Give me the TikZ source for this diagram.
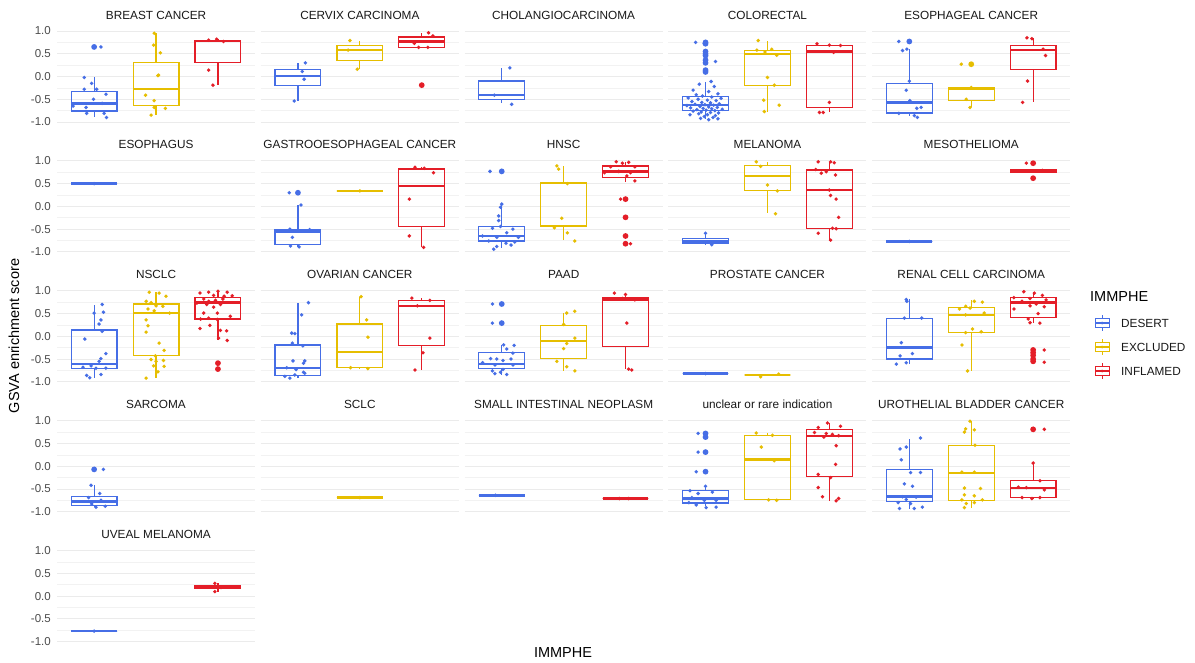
\documentclass[tikz,border=0pt]{standalone}
\usepackage{fontspec}
\setmainfont{Liberation Sans}
\definecolor{cD}{RGB}{70,110,230}
\definecolor{cE}{RGB}{230,190,0}
\definecolor{cI}{RGB}{228,30,40}
\tikzset{
 bline/.style={line width=1.2pt},
 mline/.style={line width=2.4pt},
 gmaj/.style={draw=black!8, line width=0.9pt},
 gmin/.style={draw=black!5, line width=0.6pt},
 ttl/.style={font=\fontsize{11.8}{14}\selectfont, text=black!90, inner sep=0pt},
 tick/.style={font=\fontsize{11.5}{13}\selectfont, text=black!70, anchor=east, inner sep=0pt},
 axt/.style={font=\fontsize{14.5}{17}\selectfont, text=black, inner sep=0pt},
 lab/.style={font=\fontsize{11.8}{14}\selectfont, text=black!90, inner sep=0pt, anchor=west},
}
\newcommand{\bxp}[7]{%
  \draw[#1,bline] (#2,#4) -- (#2,#3) (#2,#6) -- (#2,#7);
  \draw[#1,bline] ({#2-0.37},#4) rectangle ({#2+0.37},#6);
  \draw[#1,mline] ({#2-0.37},#5) -- ({#2+0.37},#5);}
\newcommand{\pts}[3]{\foreach \a/\b in {#3}{\fill[#1] ({#2+(\a)},\b) circle (1.9pt);}}
\newcommand{\outl}[3]{\foreach \b in {#3}{\fill[#1] (#2,\b) circle (2.9pt);}}
\newcommand{\gridp}{\foreach \v in {-0.75,-0.25,0.25,0.75}{\draw[gmin] (0.4,\v) -- (3.6,\v);}\foreach \v in {-1,-0.5,0,0.5,1}{\draw[gmaj] (0.4,\v) -- (3.6,\v);}}
\newcommand{\ticks}[1]{\foreach \v/\t [count=\i] in {1/1.0,0.5/0.5,0/0.0,-0.5/-0.5,-1/-1.0}{\node[tick] (tk#1\i) at (0.303,\v) {\t};}}
\begin{document}
\begin{tikzpicture}[x=1pt,y=-1pt]
\useasboundingbox[fill=white] (0,0) rectangle (1195,662);
% ===== Row 1 =====
\begin{scope}[xshift=32.24pt,yshift=-76.5pt,x=61.9pt,y=45.5pt]
\gridp \ticks{a}
\node[ttl] (t1) at (2,1.352) {BREAST CANCER};
\bxp{cD}{1}{-0.90}{-0.76}{-0.59}{-0.33}{-0.02}
\outl{cD}{1}{0.65}
\pts{cD}{1}{0.11/0.65,-0.16/-0.02,-0.04/-0.15,-0.16/-0.28,0.04/-0.28,0.19/-0.39,-0.01/-0.50,-0.34/-0.65,-0.13/-0.68,0.13/-0.59,-0.12/-0.81,0.16/-0.81,0.2/-0.9}
\bxp{cE}{2}{-0.85}{-0.63}{-0.28}{0.30}{0.95}
\pts{cE}{2}{-0.03/0.95,-0.04/0.69,0.07/0.52,0.04/0.03,0.03/0.02,-0.17/-0.41,-0.03/-0.53,-0.03/-0.68,0.15/-0.70,-0.08/-0.85}
\bxp{cI}{3}{-0.19}{0.30}{0.78}{0.80}{0.82}
\pts{cI}{3}{-0.15/0.80,-0.02/0.82,0.09/0.77,-0.15/0.14,-0.08/-0.19}
\end{scope}
\begin{scope}[xshift=236.04pt,yshift=-76.5pt,x=61.9pt,y=45.5pt]
\gridp
\node[ttl] (t2) at (2,1.352) {CERVIX CARCINOMA};
\bxp{cD}{1}{-0.54}{-0.19}{0.01}{0.16}{0.30}
\pts{cD}{1}{0.12/0.30,0.07/0.11,0.1/-0.06,-0.06/-0.54}
\bxp{cE}{2}{0.16}{0.36}{0.58}{0.68}{0.79}
\pts{cE}{2}{-0.16/0.79,-0.19/0.58,-0.04/0.16}
\bxp{cI}{3}{0.64}{0.64}{0.77}{0.87}{0.96}
\outl{cI}{3}{-0.19}
\pts{cI}{3}{0.11/0.96,0.18/0.89,-0.12/0.73,-0.05/0.64,0.1/0.64}
\end{scope}
\begin{scope}[xshift=439.84pt,yshift=-76.5pt,x=61.9pt,y=45.5pt]
\gridp
\node[ttl] (t3) at (2,1.352) {CHOLANGIOCARCINOMA};
\bxp{cD}{1}{-0.59}{-0.50}{-0.41}{-0.10}{0.19}
\pts{cD}{1}{0.13/0.19,-0.12/-0.41,0.16/-0.61}
\end{scope}
\begin{scope}[xshift=643.64pt,yshift=-76.5pt,x=61.9pt,y=45.5pt]
\gridp
\node[ttl] (t4) at (2,1.352) {COLORECTAL};
\bxp{cD}{1}{-0.93}{-0.75}{-0.63}{-0.44}{-0.11}
\outl{cD}{1}{0.75,0.72,0.55,0.5,0.46,0.36,0.30,0.14,0.10}
\pts{cD}{1}{-0.16/0.75,0.16/0.33,-0.02/0.72,0/0.52,0.01/0.45,0.09/-0.11,-0.1/-0.17,0.14/-0.22,-0.2/-0.3,0.05/-0.33,0.2/-0.38,-0.15/-0.4,-0.05/-0.43,0.1/-0.45,-0.28/-0.47,0.25/-0.48,-0.12/-0.5,0.03/-0.52,0.17/-0.53,-0.22/-0.55,-0.06/-0.57,0.08/-0.58,0.22/-0.6,-0.17/-0.61,-0.01/-0.62,0.13/-0.63,-0.3/-0.64,-0.09/-0.66,0.05/-0.67,0.19/-0.68,-0.24/-0.69,-0.04/-0.7,0.1/-0.71,0.27/-0.72,-0.14/-0.73,0.01/-0.74,0.15/-0.75,-0.2/-0.76,-0.07/-0.78,0.08/-0.79,0.21/-0.8,-0.11/-0.82,0.03/-0.84,0.16/-0.86,-0.02/-0.88,0.12/-0.9,0.2/-0.93,0.05/-0.95,-0.08/-0.92,-0.25/-0.84}
\bxp{cE}{2}{-0.77}{-0.19}{0.49}{0.57}{0.77}
\pts{cE}{2}{-0.15/0.79,-0.17/0.58,-0.04/0.54,0.07/0.6,0.15/0.47,0/-0.02,0.11/-0.19,-0.06/-0.52,-0.05/-0.77,0.19/-0.63}
\bxp{cI}{3}{-0.79}{-0.68}{0.55}{0.69}{0.72}
\pts{cI}{3}{-0.2/0.72,0/0.69,0.18/0.68,0.07/0.53,0/-0.57,-0.16/-0.79,-0.1/-0.79}
\end{scope}
\begin{scope}[xshift=847.44pt,yshift=-76.5pt,x=61.9pt,y=45.5pt]
\gridp
\node[ttl] (t5) at (2,1.352) {ESOPHAGEAL CANCER};
\bxp{cD}{1}{-0.87}{-0.80}{-0.57}{-0.15}{0.60}
\outl{cD}{1}{0.77}
\pts{cD}{1}{-0.17/0.77,-0.04/0.60,-0.11/0.57,0/-0.10,-0.05/-0.30,0.01/-0.53,0.19/-0.68,-0.17/-0.81,0.08/-0.86,0.13/-0.9,0.12/-0.7}
\bxp{cE}{2}{-0.68}{-0.52}{-0.26}{-0.24}{-0.24}
\outl{cE}{2}{0.27}
\pts{cE}{2}{-0.16/0.27,0/-0.24,-0.08/-0.5,-0.02/-0.68}
\bxp{cI}{3}{-0.57}{0.16}{0.58}{0.69}{0.85}
\pts{cI}{3}{-0.1/0.85,-0.02/0.83,0.16/0.6,0.2/0.46,-0.09/-0.10,-0.17/-0.57}
\end{scope}
% ===== Row 2 =====
\begin{scope}[xshift=32.24pt,yshift=-206.4pt,x=61.9pt,y=45.5pt]
\gridp \ticks{b}
\node[ttl] (t6) at (2,1.352) {ESOPHAGUS};
\bxp{cD}{1}{0.5}{0.5}{0.5}{0.5}{0.5}
\pts{cD}{1}{0/0.5}
\end{scope}
\begin{scope}[xshift=236.04pt,yshift=-206.4pt,x=61.9pt,y=45.5pt]
\gridp
\node[ttl] (t7) at (2,1.352) {GASTROOESOPHAGEAL CANCER};
\bxp{cD}{1}{-0.89}{-0.83}{-0.55}{-0.50}{0.03}
\outl{cD}{1}{0.30}
\pts{cD}{1}{-0.14/0.30,0.05/0.03,-0.13/-0.5,0.19/-0.51,-0.09/-0.68,-0.12/-0.87,0.02/-0.89}
\bxp{cE}{2}{0.34}{0.34}{0.34}{0.34}{0.34}
\pts{cE}{2}{0/0.34}
\bxp{cI}{3}{-0.90}{-0.44}{0.45}{0.82}{0.86}
\pts{cI}{3}{-0.11/0.86,0.04/0.84,0.19/0.74,-0.2/0.16,-0.2/-0.65,0.03/-0.90}
\end{scope}
\begin{scope}[xshift=439.84pt,yshift=-206.4pt,x=61.9pt,y=45.5pt]
\gridp
\node[ttl] (t8) at (2,1.352) {HNSC};
\bxp{cD}{1}{-0.92}{-0.76}{-0.65}{-0.44}{0.05}
\outl{cD}{1}{0.77}
\pts{cD}{1}{-0.19/0.77,0/0.05,-0.02/-0.02,-0.05/-0.21,-0.05/-0.31,-0.02/-0.44,-0.15/-0.48,0.18/-0.5,0.08/-0.58,-0.31/-0.65,-0.08/-0.68,0.27/-0.68,-0.21/-0.76,0.07/-0.81,-0.08/-0.88,0.15/-0.85,-0.13/-0.94,0.21/-0.78}
\bxp{cE}{2}{-0.74}{-0.43}{0.51}{0.52}{0.89}
\pts{cE}{2}{-0.11/0.89,-0.08/0.82,0.06/0.50,-0.03/-0.26,-0.15/-0.47,0.06/-0.58,0.18/-0.76}
\bxp{cI}{3}{0.53}{0.64}{0.77}{0.89}{0.98}
\outl{cI}{3}{0.16,-0.24,-0.65,-0.82}
\pts{cI}{3}{-0.15/0.98,-0.05/0.95,0.05/0.97,-0.24/0.87,0.15/0.87,-0.11/0.77,0.08/0.74,-0.34/0.74,0.02/0.67,0.15/0.56,-0.08/0.16,0.08/-0.82}
\end{scope}
\begin{scope}[xshift=643.64pt,yshift=-206.4pt,x=61.9pt,y=45.5pt]
\gridp
\node[ttl] (t9) at (2,1.352) {MELANOMA};
\bxp{cD}{1}{-0.84}{-0.82}{-0.77}{-0.70}{-0.59}
\pts{cD}{1}{0/-0.59,0.1/-0.84}
\bxp{cE}{2}{-0.15}{0.35}{0.67}{0.90}{0.98}
\pts{cE}{2}{-0.18/0.98,-0.11/0.88,0/0.47,0.16/0.34,0.13/-0.16}
\bxp{cI}{3}{-0.76}{-0.49}{0.36}{0.80}{0.98}
\pts{cI}{3}{-0.18/0.98,0.02/0.98,0.08/0.96,-0.22/0.81,-0.13/0.73,-0.05/0.76,0.1/0.69,0/0.36,0.02/0.24,0.11/0.16,0.15/-0.24,0.05/-0.48,0.11/-0.49,-0.18/-0.59,0.02/-0.74}
\end{scope}
\begin{scope}[xshift=847.44pt,yshift=-206.4pt,x=61.9pt,y=45.5pt]
\gridp
\node[ttl] (t10) at (2,1.352) {MESOTHELIOMA};
\bxp{cD}{1}{-0.77}{-0.77}{-0.77}{-0.77}{-0.77}
\pts{cD}{1}{0/-0.77}
\bxp{cI}{3}{0.74}{0.74}{0.77}{0.80}{0.80}
\outl{cI}{3}{0.95,0.62}
\pts{cI}{3}{-0.11/0.95,0.15/0.79}
\end{scope}
% ===== Row 3 =====
\begin{scope}[xshift=32.24pt,yshift=-336.3pt,x=61.9pt,y=45.5pt]
\gridp \ticks{c}
\node[ttl] (t11) at (2,1.352) {NSCLC};
\bxp{cD}{1}{-0.92}{-0.71}{-0.61}{0.14}{0.69}
\pts{cD}{1}{0.13/0.7,0/0.51,0.15/0.53,0.11/0.36,0.08/0.27,0.13/0.11,-0.15/-0.06,0.19/-0.38,0.11/-0.49,0.08/-0.55,-0.18/-0.68,-0.05/-0.65,0.03/-0.7,0.19/-0.7,-0.12/-0.86,-0.07/-0.91,0.11/-0.84}
\bxp{cE}{2}{-0.92}{-0.42}{0.51}{0.71}{0.97}
\pts{cE}{2}{-0.11/0.97,0.05/0.95,0.16/0.88,-0.16/0.77,-0.08/0.74,0/0.67,0.11/0.66,-0.13/0.60,-0.03/0.56,0.22/0.51,-0.16/0.36,-0.13/0.23,-0.16/0.09,0.05/-0.15,0.13/-0.31,-0.01/-0.43,-0.08/-0.51,0/-0.55,0.12/-0.53,-0.04/-0.65,0.13/-0.66,0.03/-0.78,-0.16/-0.92}
\bxp{cI}{3}{-0.09}{0.38}{0.74}{0.86}{0.99}
\outl{cI}{3}{-0.59,-0.72}
\pts{cI}{3}{-0.15/0.97,0/0.99,0.15/0.97,-0.29/0.95,-0.07/0.9,0.1/0.88,0.23/0.89,-0.23/0.82,-0.15/0.77,-0.04/0.79,0.08/0.82,-0.34/0.73,-0.18/0.70,0.04/0.70,-0.07/0.64,-0.23/0.51,-0.01/0.51,0.2/0.44,-0.15/0.40,-0.28/0.38,-0.01/0.37,-0.13/0.24,-0.29/0.17,0.04/0.13,0.14/0.12,0.01/-0.04,0.15/-0.09,0.01/-0.58,-0.01/-0.73}
\end{scope}
\begin{scope}[xshift=236.04pt,yshift=-336.3pt,x=61.9pt,y=45.5pt]
\gridp
\node[ttl] (t12) at (2,1.352) {OVARIAN CANCER};
\bxp{cD}{1}{-0.92}{-0.86}{-0.70}{-0.19}{0.73}
\pts{cD}{1}{0.17/0.74,0.06/0.47,-0.1/0.07,-0.05/0.06,-0.09/-0.15,0.08/-0.21,-0.08/-0.54,0.11/-0.54,0.09/-0.59,-0.18/-0.69,-0.03/-0.73,0.09/-0.79,-0.21/-0.88,-0.13/-0.92,-0.05/-0.85,0.11/-0.81}
\bxp{cE}{2}{-0.72}{-0.69}{-0.35}{0.27}{0.87}
\pts{cE}{2}{0.02/0.87,0.11/0.36,0.13/-0.02,-0.15/-0.69,0.13/-0.71}
\bxp{cI}{3}{-0.74}{-0.21}{0.67}{0.79}{0.85}
\pts{cI}{3}{-0.16/0.84,0.13/0.79,-0.07/0.67,0.13/-0.04,0.02/-0.36,-0.11/-0.74}
\end{scope}
\begin{scope}[xshift=439.84pt,yshift=-336.3pt,x=61.9pt,y=45.5pt]
\gridp
\node[ttl] (t13) at (2,1.352) {PAAD};
\bxp{cD}{1}{-0.86}{-0.71}{-0.61}{-0.35}{-0.19}
\outl{cD}{1}{0.71,0.29}
\pts{cD}{1}{-0.15/0.71,-0.15/0.29,0.03/-0.19,0.2/-0.2,0.08/-0.28,0.18/-0.37,-0.18/-0.49,-0.08/-0.5,0.02/-0.53,0.15/-0.5,-0.31/-0.58,-0.11/-0.63,0.18/-0.63,-0.15/-0.76,-0.02/-0.79,0.08/-0.84,-0.11/-0.82,0.02/-0.73}
\bxp{cE}{2}{-0.76}{-0.49}{-0.10}{0.23}{0.52}
\pts{cE}{2}{0.05/0.51,0.18/0.55,0/0.26,0.18/-0.04,0.05/-0.16,0/-0.27,-0.11/-0.55,0.05/-0.67,0.18/-0.76}
\bxp{cI}{3}{-0.72}{-0.22}{0.80}{0.84}{0.95}
\pts{cI}{3}{-0.18/0.95,0/0.92,-0.05/0.83,0.15/0.8,0.02/0.29,0.05/-0.72,0.1/-0.74}
\end{scope}
\begin{scope}[xshift=643.64pt,yshift=-336.3pt,x=61.9pt,y=45.5pt]
\gridp
\node[ttl] (t14) at (2,1.352) {PROSTATE CANCER};
\bxp{cD}{1}{-0.82}{-0.82}{-0.82}{-0.82}{-0.82}
\pts{cD}{1}{0/-0.82}
\bxp{cE}{2}{-0.85}{-0.85}{-0.85}{-0.85}{-0.85}
\pts{cE}{2}{-0.11/-0.89,0.18/-0.83}
\end{scope}
\begin{scope}[xshift=847.44pt,yshift=-336.3pt,x=61.9pt,y=45.5pt]
\gridp
\node[ttl] (t15) at (2,1.352) {RENAL CELL CARCINOMA};
\bxp{cD}{1}{-0.61}{-0.50}{-0.25}{0.40}{0.82}
\pts{cD}{1}{-0.05/0.81,-0.04/0.77,-0.08/0.40,0.2/0.40,-0.13/-0.14,-0.15/-0.43,0.05/-0.38,-0.21/-0.61,-0.05/-0.58}
\bxp{cE}{2}{-0.77}{0.08}{0.47}{0.63}{0.79}
\pts{cE}{2}{0.05/0.77,0.18/0.75,-0.09/0.66,-0.02/0.62,-0.19/0.60,-0.09/0.47,0.21/0.51,0.02/0.16,-0.09/0.08,0.16/0.10,-0.15/-0.19,-0.06/-0.76}
\bxp{cI}{3}{0.29}{0.42}{0.74}{0.85}{0.98}
\outl{cI}{3}{-0.30,-0.36,-0.42,-0.50,-0.55}
\pts{cI}{3}{-0.15/0.98,0.02/0.95,0.15/0.9,-0.31/0.85,-0.05/0.83,0.21/0.8,-0.18/0.77,0.05/0.71,0.18/0.65,-0.05/0.67,-0.31/0.6,0.08/0.5,-0.08/0.38,0.11/0.29,-0.05/0.3,0.18/-0.3,0.18/-0.57}
\end{scope}
% ===== Row 4 =====
\begin{scope}[xshift=32.24pt,yshift=-466.2pt,x=61.9pt,y=45.5pt]
\gridp \ticks{d}
\node[ttl] (t16) at (2,1.352) {SARCOMA};
\bxp{cD}{1}{-0.90}{-0.87}{-0.78}{-0.66}{-0.42}
\outl{cD}{1}{-0.07}
\pts{cD}{1}{0.15/-0.07,-0.05/-0.42,0.09/-0.6,-0.09/-0.69,0.11/-0.75,-0.04/-0.83,0.03/-0.9,0.18/-0.88}
\end{scope}
\begin{scope}[xshift=236.04pt,yshift=-466.2pt,x=61.9pt,y=45.5pt]
\gridp
\node[ttl] (t17) at (2,1.352) {SCLC};
\bxp{cE}{2}{-0.69}{-0.69}{-0.69}{-0.69}{-0.69}
\pts{cE}{2}{0/-0.69}
\end{scope}
\begin{scope}[xshift=439.84pt,yshift=-466.2pt,x=61.9pt,y=45.5pt]
\gridp
\node[ttl] (t18) at (2,1.352) {SMALL INTESTINAL NEOPLASM};
\bxp{cD}{1}{-0.64}{-0.64}{-0.64}{-0.64}{-0.64}
\pts{cD}{1}{-0.1/-0.64}
\bxp{cI}{3}{-0.71}{-0.71}{-0.71}{-0.71}{-0.71}
\pts{cI}{3}{-0.1/-0.71,0.05/-0.71}
\end{scope}
\begin{scope}[xshift=643.64pt,yshift=-466.2pt,x=61.9pt,y=45.5pt]
\gridp
\node[ttl] (t19) at (2,1.352) {unclear or rare indication};
\bxp{cD}{1}{-0.87}{-0.81}{-0.71}{-0.54}{-0.44}
\outl{cD}{1}{0.72,0.64,0.31,-0.12}
\pts{cD}{1}{-0.12/0.72,-0.12/0.31,-0.15/-0.12,0/-0.44,-0.25/-0.54,-0.12/-0.6,0.11/-0.57,-0.22/-0.69,-0.02/-0.75,0.17/-0.75,-0.15/-0.85,0.01/-0.91,0.17/-0.9,-0.27/-0.8}
\bxp{cE}{2}{-0.74}{-0.74}{0.15}{0.68}{0.73}
\pts{cE}{2}{-0.18/0.73,0.08/0.68,-0.1/0.42,0.11/0.12,0.02/-0.74,0.15/-0.75}
\bxp{cI}{3}{-0.76}{-0.22}{0.67}{0.81}{0.95}
\pts{cI}{3}{-0.03/0.95,0.18/0.88,-0.18/0.85,-0.05/0.72,0.05/0.7,0.15/0.67,-0.24/0.74,-0.09/0.64,0.11/0.45,0.1/0.04,-0.18/-0.18,0.02/-0.25,-0.18/-0.47,-0.11/-0.67,0.15/-0.71,0.11/-0.76}
\end{scope}
\begin{scope}[xshift=847.44pt,yshift=-466.2pt,x=61.9pt,y=45.5pt]
\gridp
\node[ttl] (t20) at (2,1.352) {UROTHELIAL BLADDER CANCER};
\bxp{cD}{1}{-0.93}{-0.78}{-0.67}{-0.07}{0.59}
\pts{cD}{1}{0.18/0.62,-0.05/0.42,-0.15/0.38,-0.13/0.14,0.02/-0.14,0.18/-0.14,-0.08/-0.39,0.05/-0.44,-0.11/-0.67,0.11/-0.68,-0.18/-0.8,0.02/-0.82,-0.16/-0.93,0.21/-0.9,0.08/-0.93,-0.05/-0.73}
\bxp{cE}{2}{-0.91}{-0.75}{-0.15}{0.46}{0.99}
\pts{cE}{2}{-0.02/0.99,-0.09/0.82,0.05/0.80,-0.11/0.75,0.06/0.46,-0.15/-0.13,0.05/-0.13,-0.11/-0.48,0.15/-0.49,-0.11/-0.63,0.05/-0.65,-0.15/-0.74,0.18/-0.74,-0.08/-0.82,0.05/-0.80,-0.11/-0.91}
\bxp{cI}{3}{-0.71}{-0.69}{-0.48}{-0.32}{0.07}
\outl{cI}{3}{0.81}
\pts{cI}{3}{0.18/0.81,0/0.07,0.11/-0.32,-0.24/-0.46,-0.11/-0.47,0.18/-0.52,-0.18/-0.69,-0.02/-0.71,0.11/-0.69}
\end{scope}
% ===== Row 5 =====
\begin{scope}[xshift=32.24pt,yshift=-596.1pt,x=61.9pt,y=45.5pt]
\gridp \ticks{e}
\node[ttl] (t21) at (2,1.352) {UVEAL MELANOMA};
\bxp{cD}{1}{-0.77}{-0.77}{-0.77}{-0.77}{-0.77}
\pts{cD}{1}{0/-0.77}
\bxp{cI}{3}{0.10}{0.16}{0.19}{0.22}{0.28}
\pts{cI}{3}{-0.05/0.28,-0.05/0.10,0.05/0.19,0.1/0.2}
\end{scope}
% ===== axis titles =====
\node[axt, rotate=90] (yl) at (14,336) {GSVA enrichment score};
\node[axt] (xl) at (563,653) {IMMPHE};
% ===== legend =====
\node[axt, anchor=west] (lt) at (1090,296.5) {IMMPHE};
\foreach \c/\lab/\yy/\nm in {cD/DESERT/323/la, cE/EXCLUDED/347/lb, cI/INFLAMED/371/lc}{
 \draw[\c, line width=1pt] (1102,\yy-8) -- (1102,\yy-4.5) (1102,\yy+4.5) -- (1102,\yy+8);
 \draw[\c, line width=1pt] (1095,\yy-4.5) rectangle (1109,\yy+4.5);
 \draw[\c, line width=1.6pt] (1095,\yy) -- (1109,\yy);
 \fill[\c] (1102,\yy) circle (1.5pt);
 \node[lab] (\nm) at (1121,\yy) {\lab};
}
\end{tikzpicture}
\end{document}
